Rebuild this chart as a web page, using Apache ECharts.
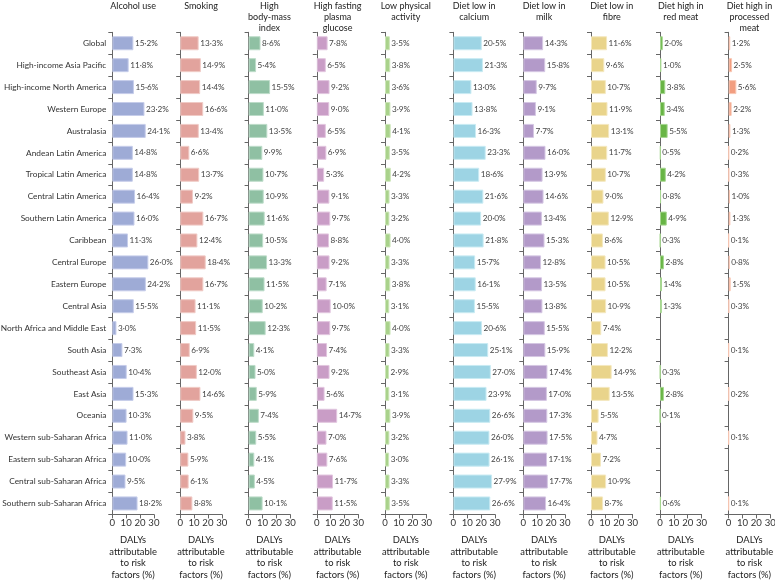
<!DOCTYPE html>
<html><head><meta charset="utf-8">
<script src="https://cdn.jsdelivr.net/npm/echarts@6/dist/echarts.min.js"></script>
<style>html,body{margin:0;padding:0;background:#fff}#c{width:775px;height:580px}</style>
</head><body><div id="c"></div>
<script>
const regions = ["Global","High-income Asia Pacific","High-income North America","Western Europe","Australasia","Andean Latin America","Tropical Latin America","Central Latin America","Southern Latin America","Caribbean","Central Europe","Eastern Europe","Central Asia","North Africa and Middle East","South Asia","Southeast Asia","East Asia","Oceania","Western sub-Saharan Africa","Eastern sub-Saharan Africa","Central sub-Saharan Africa","Southern sub-Saharan Africa"];
const panelTitles = ["Alcohol use","Smoking","High\nbody-mass\nindex","High fasting\nplasma\nglucose","Low physical\nactivity","Diet low in\ncalcium","Diet low in\nmilk","Diet low in\nfibre","Diet high in\nred meat","Diet high in\nprocessed\nmeat"];
const xTicks = [0,10,20,30];
const axisTitle = "DALYs\nattributable\nto risk\nfactors (%)";
const alcohol = [15.2,11.8,15.6,23.2,24.1,14.8,14.8,16.4,16.0,11.3,26.0,24.2,15.5,3.0,7.3,10.4,15.3,10.3,11.0,10.0,9.5,18.2];
const smoking = [13.3,14.9,14.4,16.6,13.4,6.6,13.7,9.2,16.7,12.4,18.4,16.7,11.1,11.5,6.9,12.0,14.6,9.5,3.8,5.9,6.1,8.8];
const bmi = [8.6,5.4,15.5,11.0,13.5,9.9,10.7,10.9,11.6,10.5,13.3,11.5,10.2,12.3,4.1,5.0,5.9,7.4,5.5,4.1,4.5,10.1];
const glucose = [7.8,6.5,9.2,9.0,6.5,6.9,5.3,9.1,9.7,8.8,9.2,7.1,10.0,9.7,7.4,9.2,5.6,14.7,7.0,7.6,11.7,11.5];
const activity = [3.5,3.8,3.6,3.9,4.1,3.5,4.2,3.3,3.2,4.0,3.3,3.8,3.1,4.0,3.3,2.9,3.1,3.9,3.2,3.0,3.3,3.5];
const calcium = [20.5,21.3,13.0,13.8,16.3,23.3,18.6,21.6,20.0,21.8,15.7,16.1,15.5,20.6,25.1,27.0,23.9,26.6,26.0,26.1,27.9,26.6];
const milk = [14.3,15.8,9.7,9.1,7.7,16.0,13.9,14.6,13.4,15.3,12.8,13.5,13.8,15.5,15.9,17.4,17.0,17.3,17.5,17.1,17.7,16.4];
const fibre = [11.6,9.6,10.7,11.9,13.1,11.7,10.7,9.0,12.9,8.6,10.5,10.5,10.9,7.4,12.2,14.9,13.5,5.5,4.7,7.2,10.9,8.7];
const redMeat = [2.0,1.0,3.8,3.4,5.5,0.5,4.2,0.8,4.9,0.3,2.8,1.4,1.3,null,null,0.3,2.8,0.1,null,null,null,0.6];
const processedMeat = [1.2,2.5,5.6,2.2,1.3,0.2,0.3,1.0,1.3,0.1,0.8,1.5,0.3,null,0.1,null,0.2,null,0.1,null,null,0.1];
const seriesData = [alcohol,smoking,bmi,glucose,activity,calcium,milk,fibre,redMeat,processedMeat];
const colors = ["#9eabd6","#e2a39d","#8fc0a3","#c99dc6","#a9d28b","#9dd4e4","#b39ac9","#e9d48b","#68b545","#f29e80"];
const borders = ["#c6cdea","#f0cbc6","#bddcc9","#e2c6df","#cde6ba","#c9ebf3","#d5c7e3","#f4e8c0","#a6d690","#f8c7b4"];

const lefts = [112.3,180.2,248.6,316.8,385,453.4,523.3,591,660,728.6];
const W = 41.6, TOP = 32.3, BOTTOM = 65.6;
const FONT = "Lato";
const grids=[],xAxes=[],yAxes=[],series=[],graphics=[];
lefts.forEach((l,i)=>{
  grids.push({left:l,top:TOP,width:W,bottom:BOTTOM,containLabel:false,outerBoundsMode:'none'});
  xAxes.push({type:'value',gridIndex:i,min:0,max:30,interval:10,
    axisLine:{show:true,lineStyle:{color:'#666',width:1}},
    axisTick:{show:true,length:4,lineStyle:{color:'#666'}},
    splitLine:{show:false},
    axisLabel:{fontFamily:FONT,fontSize:9.6,color:'#333',margin:4,hideOverlap:false,formatter:v=>xTicks.includes(v)?String(v):''}});
  yAxes.push({type:'category',gridIndex:i,data:regions,inverse:true,
    axisLine:{show:true,lineStyle:{color:'#666',width:1}},
    axisTick:{show:true,length:4,lineStyle:{color:'#666'}},
    axisLabel:{show:i===0,fontFamily:FONT,fontSize:8.3,color:'#333',margin:6,hideOverlap:false}});
  series.push({type:'bar',xAxisIndex:i,yAxisIndex:i,data:seriesData[i],barCategoryGap:'36%',
    itemStyle:{color:colors[i],borderColor:borders[i],borderWidth:1},
    label:{show:true,position:'right',distance:1.5,fontFamily:FONT,fontSize:8.2,color:'#444',
      formatter:p=>(p.value==null||isNaN(p.value))?'':Number(p.value).toFixed(1).replace('.','·')+'%'},
    silent:true,animation:false});
  const cx = l + W/2;
  graphics.push({type:'text',x:cx,y:0,style:{text:panelTitles[i],fontFamily:FONT,fontSize:9,lineHeight:11.3,fill:'#222',align:'center',verticalAlign:'top',textAlign:'center',textVerticalAlign:'top'}});
  graphics.push({type:'text',x:cx,y:534,style:{text:axisTitle,fontFamily:FONT,fontSize:9.4,lineHeight:11.7,fill:'#222',align:'center',verticalAlign:'top',textAlign:'center',textVerticalAlign:'top'}});
});
const chart = echarts.init(document.getElementById('c'),null,{renderer:'canvas'});
chart.setOption({animation:false,grid:grids,xAxis:xAxes,yAxis:yAxes,series:series,graphic:graphics});
</script></body></html>
